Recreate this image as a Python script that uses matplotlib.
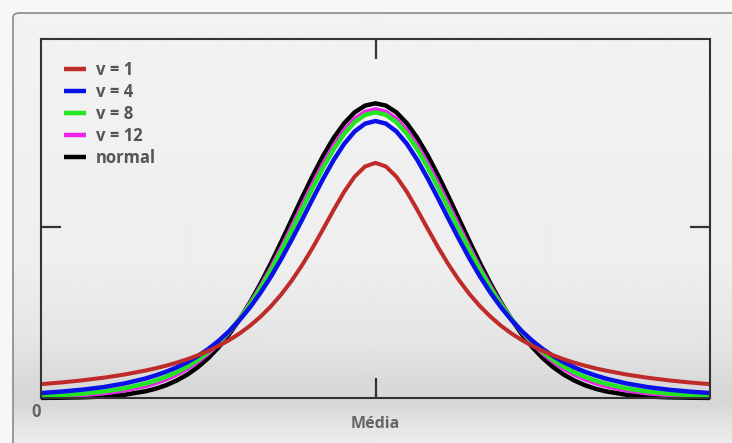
import matplotlib.pyplot as plt
import numpy as np
from matplotlib.patches import FancyBboxPatch

# Distribuicao t de Student vs normal
x = [-4, -3.75, -3.5, -3.25, -3, -2.75, -2.625, -2.5, -2.375, -2.25, -2.125, -2, -1.875,
     -1.75, -1.625, -1.5, -1.375, -1.25, -1.125, -1, -0.875, -0.75, -0.625, -0.5, -0.375,
     -0.25, -0.125, 0, 0.125, 0.25, 0.375, 0.5, 0.625, 0.75, 0.875, 1, 1.125, 1.25, 1.375,
     1.5, 1.625, 1.75, 1.875, 2, 2.125, 2.25, 2.375, 2.5, 2.625, 2.75, 3, 3.25, 3.5, 3.75, 4]

v1 = [0.0187, 0.0211, 0.0240, 0.0275, 0.0318, 0.0372, 0.0403, 0.0439, 0.0479, 0.0525, 0.0577,
      0.0637, 0.0705, 0.0784, 0.0874, 0.0979, 0.1101, 0.1242, 0.1405, 0.1592, 0.1803, 0.2037,
      0.2289, 0.2546, 0.2791, 0.2996, 0.3134, 0.3183, 0.3134, 0.2996, 0.2791, 0.2546, 0.2289,
      0.2037, 0.1803, 0.1592, 0.1405, 0.1242, 0.1101, 0.0979, 0.0874, 0.0784, 0.0705, 0.0637,
      0.0577, 0.0525, 0.0479, 0.0439, 0.0403, 0.0372, 0.0318, 0.0275, 0.0240, 0.0211, 0.0187]
v4 = [0.0067, 0.0087, 0.0113, 0.0148, 0.0197, 0.0264, 0.0307, 0.0357, 0.0416, 0.0485, 0.0567,
      0.0663, 0.0775, 0.0905, 0.1056, 0.1229, 0.1425, 0.1644, 0.1886, 0.2147, 0.2420, 0.2699,
      0.2971, 0.3223, 0.3440, 0.3608, 0.3714, 0.3750, 0.3714, 0.3608, 0.3440, 0.3223, 0.2971,
      0.2699, 0.2420, 0.2147, 0.1886, 0.1644, 0.1425, 0.1229, 0.1056, 0.0905, 0.0775, 0.0663,
      0.0567, 0.0485, 0.0416, 0.0357, 0.0307, 0.0264, 0.0197, 0.0148, 0.0113, 0.0087, 0.0067]
v8 = [0.0028, 0.0040, 0.0059, 0.0088, 0.0130, 0.0194, 0.0236, 0.0288, 0.0350, 0.0426, 0.0516,
      0.0624, 0.0751, 0.0899, 0.1071, 0.1268, 0.1489, 0.1733, 0.1997, 0.2276, 0.2563, 0.2848,
      0.3120, 0.3367, 0.3575, 0.3734, 0.3833, 0.3867, 0.3833, 0.3734, 0.3575, 0.3367, 0.3120,
      0.2848, 0.2563, 0.2276, 0.1997, 0.1733, 0.1489, 0.1268, 0.1071, 0.0899, 0.0751, 0.0624,
      0.0516, 0.0426, 0.0350, 0.0288, 0.0236, 0.0194, 0.0130, 0.0088, 0.0059, 0.0040, 0.0028]
v12 = [0.0016, 0.0025, 0.0040, 0.0064, 0.0103, 0.0163, 0.0205, 0.0256, 0.0319, 0.0397, 0.0490,
       0.0602, 0.0736, 0.0892, 0.1073, 0.1278, 0.1510, 0.1763, 0.2036, 0.2322, 0.2614, 0.2901,
       0.3173, 0.3417, 0.3622, 0.3777, 0.3874, 0.3907, 0.3874, 0.3777, 0.3622, 0.3417, 0.3173,
       0.2901, 0.2614, 0.2322, 0.2036, 0.1763, 0.1510, 0.1278, 0.1073, 0.0892, 0.0736, 0.0602,
       0.0490, 0.0397, 0.0319, 0.0256, 0.0205, 0.0163, 0.0103, 0.0064, 0.0040, 0.0025, 0.0016]
normal = [0.0001, 0.0004, 0.0009, 0.0020, 0.0044, 0.0091, 0.0127, 0.0175, 0.0238, 0.0317, 0.0417,
          0.0540, 0.0688, 0.0863, 0.1065, 0.1295, 0.1550, 0.1826, 0.2119, 0.2420, 0.2721, 0.3011,
          0.3282, 0.3521, 0.3719, 0.3867, 0.3958, 0.3989, 0.3958, 0.3867, 0.3719, 0.3521, 0.3282,
          0.3011, 0.2721, 0.2420, 0.2119, 0.1826, 0.1550, 0.1295, 0.1065, 0.0863, 0.0688, 0.0540,
          0.0417, 0.0317, 0.0238, 0.0175, 0.0127, 0.0091, 0.0044, 0.0020, 0.0009, 0.0004, 0.0001]

labels = ['v = 1', 'v = 4', 'v = 8', 'v = 12', 'normal']
colors = ['#bf2a2a', '#0a10e8', '#22e622', '#ee22ee', '#000000']

W, H = 732, 443
fig = plt.figure(figsize=(W / 100, H / 100), dpi=100)
fig.patch.set_facecolor('#f7f7f7')

# fundo do painel (gradiente cinza)
bg = fig.add_axes([13 / W, 0, 1 - 13 / W, (H - 13) / H], zorder=-2)
rows = np.arange(H - 13)
stops_y = [0, 250, 330, 370, 390, 410, 430]
stops_c = [0.95, 0.935, 0.895, 0.85, 0.84, 0.89, 0.925]
g = np.interp(rows, stops_y, stops_c)
bg.imshow(g[:, None], cmap='gray', vmin=0, vmax=1, aspect='auto', interpolation='bilinear')
bg.axis('off')
fig.patches.append(FancyBboxPatch((13 / W, -0.05), 1.2, 1 - 13 / H + 0.05,
                                  boxstyle='round,pad=0,rounding_size=0.01',
                                  transform=fig.transFigure, facecolor='none',
                                  edgecolor='#8a8a8a', linewidth=1.2, zorder=-1))

ax = fig.add_axes([41 / W, 45 / H, 669 / W, 359 / H])
ax.set_facecolor('none')

series = [v1, v4, v8, v12, normal]
handles = [None] * 5
for i in [4, 3, 2, 1, 0]:
    lw = 2.9 if i == 0 else 3.2
    handles[i], = ax.plot(x, series[i], color=colors[i], lw=lw, label=labels[i],
                          solid_capstyle='butt', solid_joinstyle='round', clip_on=False)

ax.set_xlim(-4, 4)
ax.set_ylim(0, 0.486)
ax.set_xticks([0])
ax.set_yticks([0.231])
ax.tick_params(direction='in', length=14.5, width=1.6, color='#333333',
               top=True, right=True, labelbottom=False, labelleft=False)
for s in ax.spines.values():
    s.set_color('#333333')
    s.set_linewidth(1.5)

ax.text(-0.0075, -0.04, '0', transform=ax.transAxes, ha='center', va='center',
        fontsize=12, fontweight='bold', color='#666666', family='Open Sans')
ax.text(0.5, -0.072, 'Média', transform=ax.transAxes, ha='center', va='center',
        fontsize=11.5, fontweight='bold', color='#666666', family='Open Sans')

leg = ax.legend(handles=handles, loc='upper left', bbox_to_anchor=(0.035, 0.94),
                frameon=False, handlelength=1.3, handletextpad=0.6, labelspacing=0.25,
                borderpad=0, borderaxespad=0,
                prop={'family': 'Open Sans', 'weight': 'bold', 'size': 12})
for t in leg.get_texts():
    t.set_color('#555555')
for h in leg.legend_handles:
    h.set_linewidth(3.2)

fig.savefig('out.png', dpi=100, facecolor=fig.get_facecolor())
